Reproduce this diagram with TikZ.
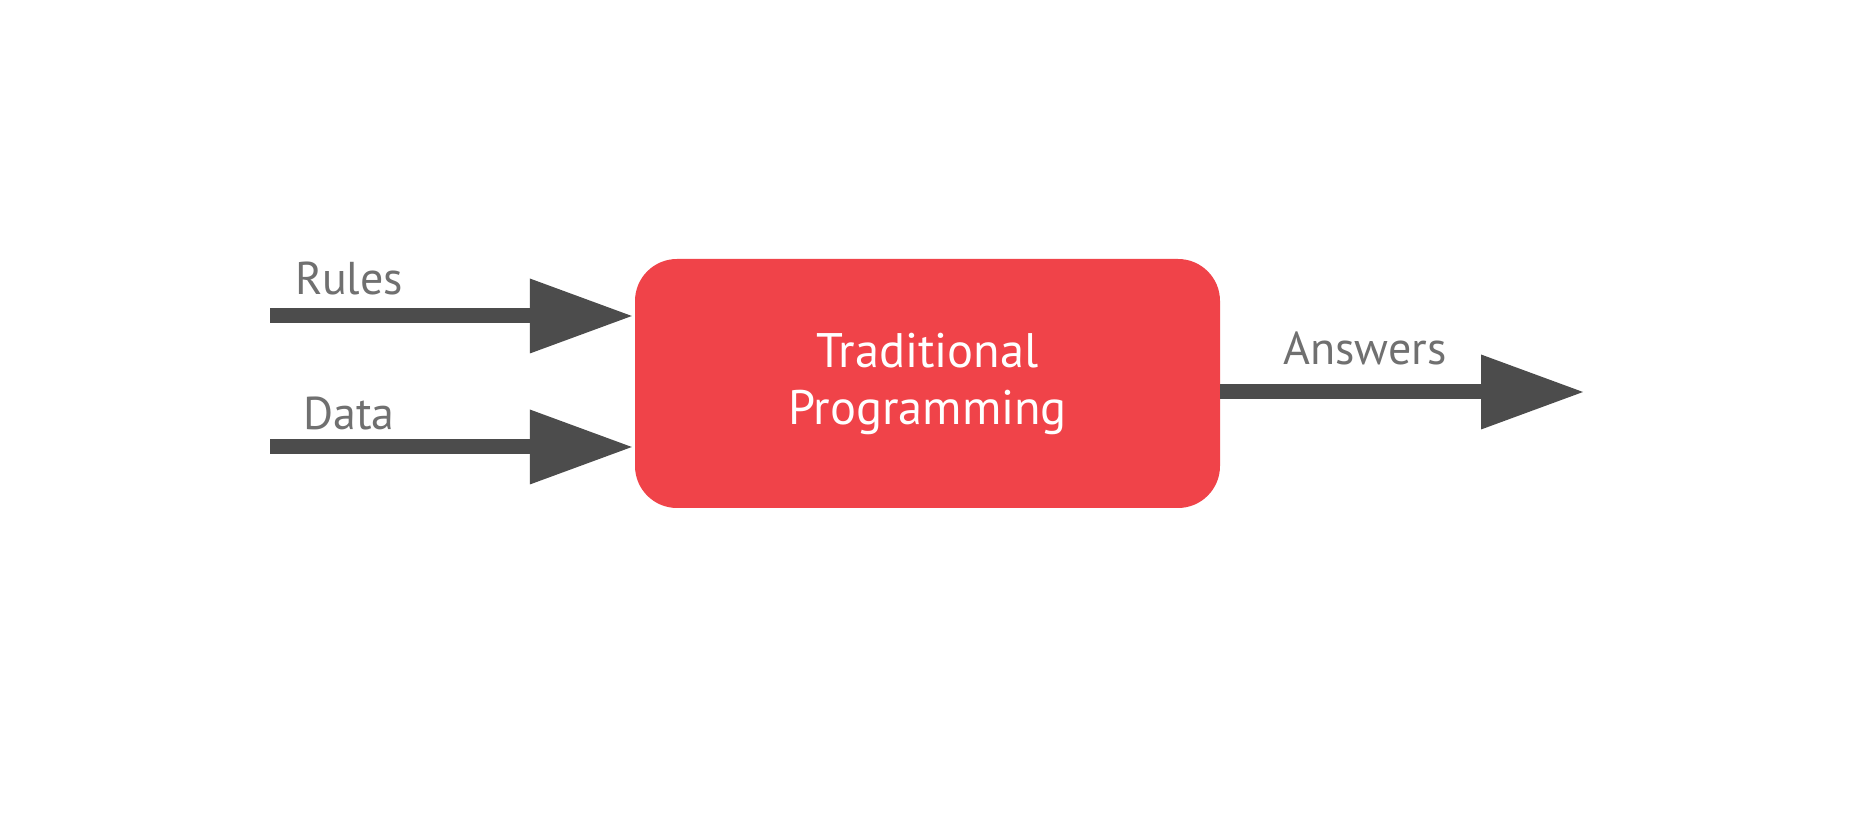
\documentclass[tikz,border=0pt]{standalone}
\usepackage{fontspec}
\setmainfont{PT Sans}
\usepackage{tikz}
\usetikzlibrary{arrows.meta}
\usetikzlibrary{positioning}
\definecolor{boxred}{RGB}{240,67,73}
\definecolor{arrowgray}{RGB}{76,76,76}
\definecolor{taggray}{RGB}{112,112,112}
\tikzset{
  flow/.style={line width=15pt,color=arrowgray,
    -{Triangle[length=102pt,width=75pt,line width=0pt]}},
  tag/.style={inner sep=0pt,text=taggray,font=\fontsize{46}{56}\selectfont},
  progbox/.style={fill=boxred,rounded corners=42pt,minimum width=585pt,
    minimum height=249pt,text=white,align=center,
    font=\fontsize{48.5}{57}\selectfont}
}

\begin{document}
\begin{tikzpicture}[line cap=butt,line join=miter,x=1pt,y=1pt]
            \fill[white] (0,0) rectangle (1875,840);
            \useasboundingbox (0,0) rectangle (1875,840);
            \node[progbox] (prog) at (927.5,456.5) {Traditional\\Programming};
            \coordinate (rulesin) at (270,524);
            \coordinate (datain) at (270,393);
            \coordinate (answersout) at (1583,448);
            \draw [flow,shorten >=3pt] (rulesin) -- (prog.west |- rulesin);
            \draw [flow,shorten >=3pt] (datain) -- (prog.west |- datain);
            \draw [flow] (prog.east |- answersout) -- (answersout);
            \node[tag,anchor=base west] (rules) at (295,545) {Rules};
            \node[tag,anchor=base west] (data) at (303,410) {Data};
            \node[tag,anchor=base west] (answers) at (1283,475) {Answers};
        \end{tikzpicture}
\end{document}
